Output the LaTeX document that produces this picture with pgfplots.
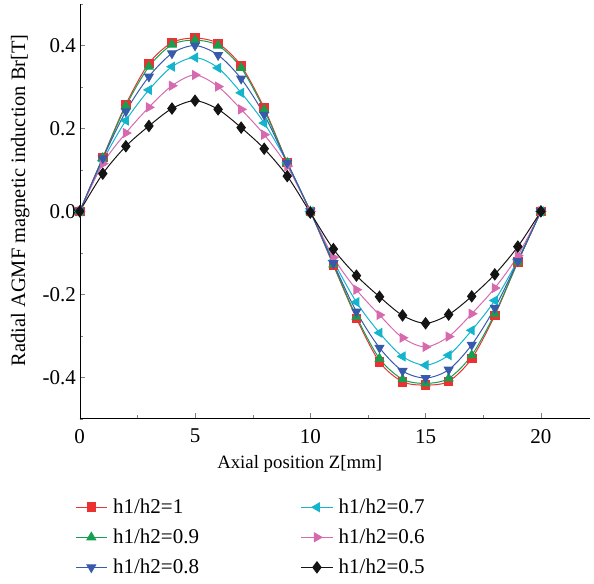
\documentclass[border=0pt]{standalone}
\usepackage{fontspec}
\setmainfont{Liberation Serif}
\usepackage{pgfplots}
\pgfplotsset{compat=1.18}
\definecolor{cR}{RGB}{234,50,50}
\definecolor{cG}{RGB}{20,160,80}
\definecolor{cB}{RGB}{55,90,170}
\definecolor{cC}{RGB}{20,180,205}
\definecolor{cP}{RGB}{215,105,175}
\definecolor{cK}{RGB}{20,20,20}

\begin{document}
\begin{tikzpicture}
\begin{axis}[
    scale only axis,
    width=462pt, height=375pt,
    xmin=0, xmax=22.15,
    ymin=-0.5, ymax=0.5,
    axis lines*=left,
    tick align=inside,
    major tick length=5pt,
    minor tick length=3pt,
    xtick={0,5,10,15,20},
    minor xtick={2.5,7.5,12.5,17.5},
    ytick={-0.4,-0.2,0,0.2,0.4},
    yticklabels={-0.4,-0.2,0.0,0.2,0.4},
    minor ytick={-0.5,-0.3,-0.1,0.1,0.3,0.5},
    /pgf/number format/assume math mode=true,
    tick label style={font=\fontsize{19}{22}\selectfont},
    xticklabel style={yshift=-6pt},
    xlabel={Axial position Z[mm]},
    ylabel={Radial AGMF magnetic induction Br[T]},
    ylabel style={font=\fontsize{18.5}{21}\selectfont, yshift=5pt, xshift=10pt},
    xlabel style={font=\fontsize{17}{20}\selectfont, yshift=-4pt, xshift=-32pt},
    clip=false,
    legend style={at={(-0.016,-0.183)}, anchor=north west, draw=none,
        font=\fontsize{19}{22}\selectfont, legend columns=2,
        row sep=8.5pt,
        /tikz/every odd column/.append style={column sep=3pt},
        /tikz/every even column/.append style={column sep=90pt}},
    legend cell align=left,
    legend image code/.code={\draw[mark repeat=2,mark phase=2] plot coordinates {(0cm,0cm) (0.5cm,0cm) (1cm,0cm)};},
    every axis plot/.append style={smooth, line width=0.9pt},
]
\addplot[cR, mark=square*, mark size=3.9pt] coordinates {
(0,0) (1,0.13) (2,0.258) (3,0.357) (4,0.407) (5,0.418) (6,0.405) (7,0.351) (8,0.249) (9,0.118) (10,0)
(11,-0.13) (12,-0.258) (13,-0.363) (14,-0.411) (15,-0.419) (16,-0.41) (17,-0.355) (18,-0.251) (19,-0.122) (20,0)};
\addlegendentry{h1/h2=1}
\addplot[cC, mark=triangle*, mark options={rotate=90}, mark size=4.5pt] coordinates {
(0,0) (1,0.122) (2,0.219) (3,0.293) (4,0.349) (5,0.371) (6,0.346) (7,0.286) (8,0.213) (9,0.117) (10,0)
(11,-0.119) (12,-0.219) (13,-0.293) (14,-0.350) (15,-0.371) (16,-0.347) (17,-0.287) (18,-0.215) (19,-0.117) (20,0)};
\addlegendentry{h1/h2=0.7}
\addplot[cG, mark=triangle*, mark size=4.5pt] coordinates {
(0,0) (1,0.129) (2,0.254) (3,0.349) (4,0.402) (5,0.413) (6,0.400) (7,0.346) (8,0.245) (9,0.117) (10,0)
(11,-0.128) (12,-0.254) (13,-0.355) (14,-0.405) (15,-0.415) (16,-0.403) (17,-0.347) (18,-0.247) (19,-0.122) (20,0)};
\addlegendentry{h1/h2=0.9}
\addplot[cP, mark=triangle*, mark options={rotate=-90}, mark size=4.5pt] coordinates {
(0,0) (1,0.115) (2,0.189) (3,0.251) (4,0.303) (5,0.329) (6,0.301) (7,0.246) (8,0.185) (9,0.109) (10,0)
(11,-0.111) (12,-0.189) (13,-0.250) (14,-0.305) (15,-0.327) (16,-0.302) (17,-0.247) (18,-0.185) (19,-0.107) (20,0)};
\addlegendentry{h1/h2=0.6}
\addplot[cB, mark=triangle*, mark options={rotate=180}, mark size=4.5pt] coordinates {
(0,0) (1,0.128) (2,0.241) (3,0.325) (4,0.381) (5,0.400) (6,0.377) (7,0.320) (8,0.233) (9,0.117) (10,0)
(11,-0.125) (12,-0.242) (13,-0.329) (14,-0.385) (15,-0.402) (16,-0.382) (17,-0.322) (18,-0.233) (19,-0.12) (20,0)};
\addlegendentry{h1/h2=0.8}
\addplot[cK, mark=diamond*, mark size=5pt] coordinates {
(0,0) (1,0.091) (2,0.157) (3,0.206) (4,0.248) (5,0.267) (6,0.246) (7,0.202) (8,0.151) (9,0.085) (10,-0.003)
(11,-0.091) (12,-0.155) (13,-0.206) (14,-0.251) (15,-0.270) (16,-0.249) (17,-0.205) (18,-0.152) (19,-0.085) (20,0)};
\addlegendentry{h1/h2=0.5}
\end{axis}
\path ([xshift=-6.5pt]current bounding box.west) ([xshift=3pt]current bounding box.east);
\path ([yshift=3.5pt]current bounding box.north) ([yshift=-3pt]current bounding box.south);
\end{tikzpicture}
\end{document}
